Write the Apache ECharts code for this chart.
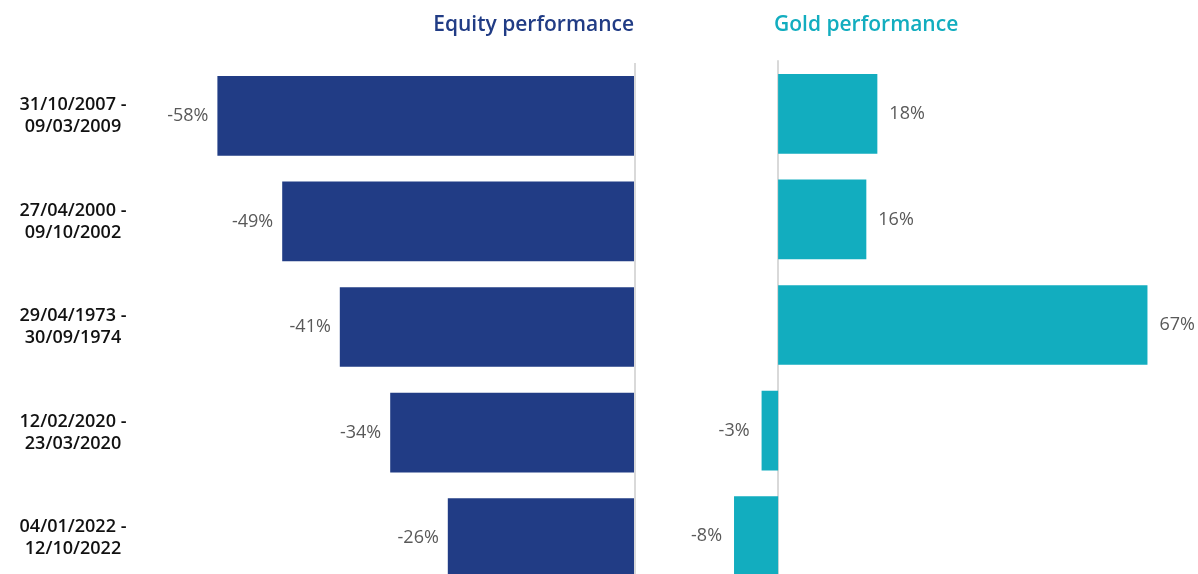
<!DOCTYPE html>
<html>
<head>
<meta charset="utf-8">
<script src="https://cdn.jsdelivr.net/npm/echarts@6/dist/echarts.min.js"></script>
<style>
  html, body { margin: 0; padding: 0; background: #fff; }
  #chart { width: 1198px; height: 574px; }
</style>
</head>
<body>
<div id="chart"></div>
<script>
var periods = [
	'31/10/2007 -\n09/03/2009',
	'27/04/2000 -\n09/10/2002',
	'29/04/1973 -\n30/09/1974',
	'12/02/2020 -\n23/03/2020',
	'04/01/2022 -\n12/10/2022'
];
var equityPerf = [-58, -49, -41, -34, -26];
var goldPerf = [18, 16, 67, -3, -8];

var FONT = '"Open Sans", "Noto Sans", sans-serif';
var equityColor = '#213c85';
var goldColor = '#12adbf';

// labels sit on the outer end of each bar
function withLabels(values) {
	return values.map(function (v) {
		return { value: v, label: { position: v < 0 ? 'left' : 'right' } };
	});
}

var myChart = echarts.init(document.getElementById('chart'));

var option = {
	animation: false,
	title: [{
		text: 'Equity performance',
		right: 564,
		top: 15,
		padding: 0,
		textStyle: { fontFamily: FONT, fontSize: 21, fontWeight: 600, color: equityColor }
	}, {
		text: 'Gold performance',
		left: 774,
		top: 15,
		padding: 0,
		textStyle: { fontFamily: FONT, fontSize: 21, fontWeight: 600, color: goldColor }
	}],
	grid: [
		{ left: 203, width: 432, top: 63, height: 528, outerBoundsMode: 'none' },
		{ left: 723, width: 441, top: 61, height: 528, outerBoundsMode: 'none' }
	],
	xAxis: [{
		gridIndex: 0, type: 'value', min: -60, max: 0,
		show: false
	}, {
		gridIndex: 1, type: 'value', min: -10, max: 70,
		show: false
	}],
	yAxis: [{
		gridIndex: 0, type: 'category', data: periods, inverse: true,
		position: 'right',
		axisLine: { show: false },
		axisTick: { show: false },
		axisLabel: { show: false }
	}, {
		gridIndex: 0, type: 'category', data: periods, inverse: true,
		position: 'left',
		axisLine: { show: false },
		axisTick: { show: false },
		axisLabel: {
			margin: 130, align: 'center',
			fontFamily: FONT, fontSize: 18, fontWeight: 600, color: '#111',
			lineHeight: 22
		}
	}, {
		gridIndex: 1, type: 'category', data: periods, inverse: true,
		axisLine: { show: true, onZero: true, lineStyle: { color: '#d9d9d9', width: 2 } },
		axisTick: { show: false },
		axisLabel: { show: false }
	}],
	series: [{
		name: 'Equity',
		type: 'bar',
		xAxisIndex: 0, yAxisIndex: 1,
		data: withLabels(equityPerf),
		barWidth: '75.5%',
		itemStyle: { color: equityColor },
		label: {
			show: true, distance: 9,
			formatter: '{c}%',
			fontFamily: FONT, fontSize: 18, color: '#595959'
		},
		markLine: {
			silent: true, symbol: 'none', label: { show: false },
			lineStyle: { color: '#d9d9d9', width: 2, type: 'solid' },
			data: [{ xAxis: 0 }]
		},
		z: 3
	}, {
		name: 'Gold',
		type: 'bar',
		xAxisIndex: 1, yAxisIndex: 2,
		data: withLabels(goldPerf),
		barWidth: '75.5%',
		itemStyle: { color: goldColor },
		label: {
			show: true, distance: 12,
			formatter: '{c}%',
			fontFamily: FONT, fontSize: 18, color: '#595959'
		},
		z: 3
	}]
};

myChart.setOption(option);
</script>
</body>
</html>
